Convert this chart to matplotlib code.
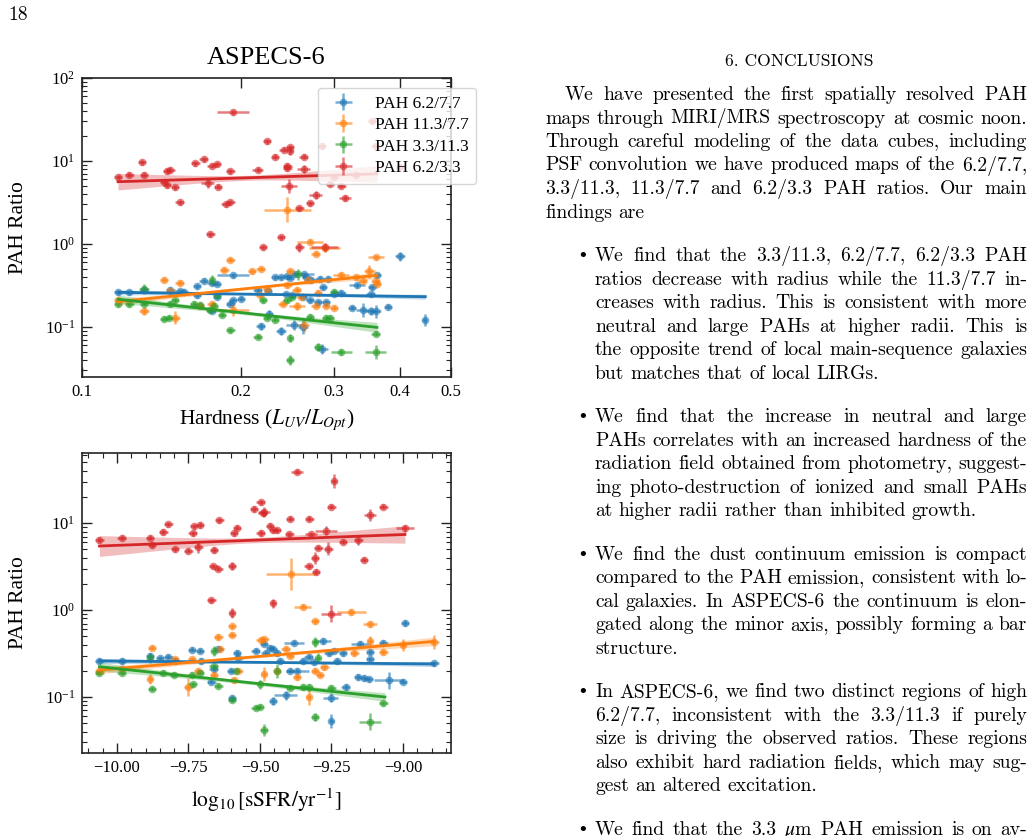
import numpy as np
import matplotlib
matplotlib.use('Agg')
import matplotlib.pyplot as plt
from matplotlib.ticker import (FixedLocator, FixedFormatter, NullLocator,
                               LogLocator, MultipleLocator, NullFormatter, FuncFormatter)

plt.rcParams['font.family'] = ['Liberation Serif', 'DejaVu Serif']
plt.rcParams['mathtext.fontset'] = 'stix'
plt.rcParams['axes.unicode_minus'] = True

# ---------------------------------------------------------------- data
labels = ['PAH 6.2/7.7', 'PAH 11.3/7.7', 'PAH 3.3/11.3', 'PAH 6.2/3.3']
colors = ['#1f77b4', '#ff7f0e', '#2ca02c', '#d62728']

# top panel: (hardness, ratio, xerr [dex], yerr [dex])
top_blue = [(0.117, 0.262, .008, .03), (0.123, 0.262, .008, .03), (0.131, 0.28, .008, .03),
            (0.147, 0.28, .008, .03), (0.153, 0.27, .008, .03), (0.156, 0.265, .008, .03),
            (0.165, 0.31, .008, .03), (0.170, 0.36, .008, .03), (0.176, 0.34, .008, .03),
            (0.180, 0.33, .008, .03), (0.193, 0.42, .030, .03), (0.176, 0.157, .008, .03),
            (0.191, 0.19, .008, .03), (0.193, 0.21, .008, .03), (0.180, 0.23, .008, .03),
            (0.218, 0.102, .008, .04), (0.226, 0.145, .008, .04), (0.232, 0.40, .008, .03),
            (0.238, 0.40, .008, .03), (0.245, 0.41, .008, .03), (0.248, 0.39, .008, .03),
            (0.253, 0.43, .008, .03), (0.263, 0.43, .020, .03), (0.266, 0.40, .008, .03),
            (0.272, 0.37, .008, .03), (0.282, 0.38, .008, .03), (0.292, 0.38, .008, .03),
            (0.286, 0.30, .008, .03), (0.238, 0.090, .010, .05), (0.252, 0.105, .015, .06),
            (0.262, 0.100, .010, .08), (0.285, 0.055, .012, .06), (0.243, 0.25, .008, .03),
            (0.250, 0.24, .008, .03), (0.262, 0.23, .008, .03), (0.270, 0.21, .008, .03),
            (0.280, 0.20, .008, .03), (0.290, 0.20, .008, .03), (0.300, 0.25, .008, .03),
            (0.310, 0.26, .008, .03), (0.332, 0.32, .015, .03), (0.325, 0.17, .008, .03),
            (0.340, 0.16, .012, .08), (0.352, 0.155, .010, .05), (0.360, 0.155, .010, .08),
            (0.380, 0.175, .008, .03), (0.352, 0.25, .008, .03), (0.355, 0.30, .008, .03),
            (0.362, 0.42, .008, .03), (0.400, 0.71, .010, .05), (0.446, 0.122, .005, .07),
            (0.215, 0.28, .008, .03), (0.225, 0.27, .008, .03), (0.200, 0.22, .008, .03),
            (0.165, 0.24, .008, .03)]
top_orange = [(0.117, 0.21, .008, .03), (0.131, 0.155, .010, .05), (0.150, 0.13, .010, .08),
              (0.143, 0.37, .008, .03), (0.153, 0.34, .008, .03), (0.147, 0.27, .008, .03),
              (0.167, 0.18, .008, .03), (0.176, 0.19, .008, .03), (0.191, 0.65, .008, .03),
              (0.186, 0.49, .008, .03), (0.193, 0.16, .030, .07), (0.210, 0.47, .008, .03),
              (0.218, 0.50, .008, .03), (0.217, 0.24, .008, .03), (0.245, 2.6, .045, .15),
              (0.248, 0.47, .008, .03), (0.245, 0.32, .008, .03), (0.255, 0.18, .015, .05),
              (0.263, 0.105, .010, .08), (0.270, 1.06, .025, .03), (0.277, 0.76, .008, .03),
              (0.288, 0.90, .030, .04), (0.268, 0.37, .008, .03), (0.277, 0.18, .008, .03),
              (0.290, 0.18, .008, .03), (0.300, 0.17, .008, .03), (0.310, 0.42, .015, .04),
              (0.330, 0.40, .008, .03), (0.350, 0.47, .010, .08), (0.360, 0.69, .015, .03),
              (0.362, 0.33, .008, .03), (0.260, 0.23, .008, .03), (0.240, 0.19, .008, .03),
              (0.224, 0.29, .008, .03), (0.255, 0.28, .008, .03), (0.280, 0.26, .008, .03),
              (0.340, 0.36, .008, .03), (0.360, 0.36, .008, .03)]
top_green = [(0.117, 0.187, .008, .03), (0.123, 0.187, .008, .03), (0.131, 0.29, .010, .06),
             (0.131, 0.19, .008, .03), (0.147, 0.19, .008, .03), (0.143, 0.125, .008, .03),
             (0.146, 0.13, .008, .03), (0.150, 0.21, .008, .03), (0.167, 0.185, .008, .03),
             (0.176, 0.37, .005, .06), (0.178, 0.18, .008, .03), (0.180, 0.24, .008, .03),
             (0.184, 0.14, .008, .03), (0.191, 0.092, .008, .03), (0.215, 0.076, .008, .03),
             (0.220, 0.21, .008, .03), (0.224, 0.13, .008, .03), (0.232, 0.122, .008, .03),
             (0.245, 0.21, .008, .03), (0.250, 0.23, .008, .03), (0.257, 0.43, .008, .07),
             (0.248, 0.074, .005, .05), (0.248, 0.040, .008, .06), (0.270, 0.133, .008, .03),
             (0.280, 0.058, .008, .05), (0.290, 0.13, .008, .03), (0.295, 0.13, .008, .03),
             (0.300, 0.265, .008, .03), (0.310, 0.050, .020, .04), (0.360, 0.083, .008, .03),
             (0.360, 0.050, .020, .08), (0.175, 0.16, .008, .03), (0.163, 0.19, .008, .03)]
top_red = [(0.117, 6.4, .008, .03), (0.123, 6.8, .008, .03), (0.131, 6.8, .008, .03),
           (0.130, 9.6, .008, .03), (0.145, 7.5, .008, .03), (0.147, 7.8, .008, .03),
           (0.143, 5.6, .008, .03), (0.145, 5.1, .008, .03), (0.150, 4.8, .008, .03),
           (0.153, 3.2, .008, .03), (0.164, 9.4, .008, .03), (0.170, 10.5, .008, .03),
           (0.173, 5.4, .012, .06), (0.176, 8.8, .008, .03), (0.180, 9.2, .008, .03),
           (0.181, 4.9, .008, .03), (0.191, 7.5, .008, .03), (0.193, 38.6, .030, .03),
           (0.187, 3.0, .008, .03), (0.191, 3.2, .008, .03), (0.175, 1.31, .008, .03),
           (0.224, 17.4, .008, .03), (0.215, 7.8, .010, .03), (0.232, 11.3, .008, .03),
           (0.241, 13.7, .008, .03), (0.248, 14.6, .008, .03), (0.248, 13.2, .005, .05),
           (0.245, 8.2, .008, .03), (0.245, 8.8, .008, .03), (0.247, 5.0, .015, .08),
           (0.263, 11.3, .008, .03), (0.263, 8.0, .012, .05), (0.258, 2.69, .008, .03),
           (0.270, 3.1, .008, .03), (0.277, 3.9, .012, .05), (0.295, 5.3, .008, .03),
           (0.315, 3.6, .012, .04), (0.238, 1.2, .008, .03), (0.258, 0.91, .008, .05),
           (0.288, 0.91, .025, .05), (0.220, 0.91, .008, .03), (0.354, 30.0, .008, .03),
           (0.285, 15.0, .008, .03), (0.360, 15.0, .008, .03), (0.400, 8.5, .008, .03),
           (0.300, 6.5, .008, .03), (0.310, 5.0, .008, .03), (0.330, 6.8, .008, .03)]

# bottom panel: (log sSFR, ratio, xerr, yerr [dex])
bot_blue = [(-10.061, 0.26, .015, .03), (-9.983, 0.26, .015, .03), (-9.884, 0.30, .015, .03),
            (-9.850, 0.28, .015, .03), (-9.820, 0.29, .015, .03), (-9.797, 0.26, .015, .03),
            (-9.737, 0.35, .015, .03), (-9.710, 0.34, .015, .03), (-9.705, 0.26, .015, .03),
            (-9.662, 0.21, .015, .03), (-9.670, 0.15, .015, .03), (-9.645, 0.36, .015, .03),
            (-9.600, 0.20, .015, .03), (-9.597, 0.098, .015, .03), (-9.580, 0.32, .015, .03),
            (-9.575, 0.28, .015, .03), (-9.515, 0.34, .015, .03), (-9.486, 0.41, .015, .03),
            (-9.480, 0.32, .015, .03), (-9.465, 0.37, .015, .03), (-9.455, 0.36, .015, .03),
            (-9.440, 0.32, .015, .03), (-9.430, 0.26, .015, .03), (-9.455, 0.090, .015, .05),
            (-9.410, 0.105, .040, .05), (-9.380, 0.42, .035, .03), (-9.395, 0.20, .015, .03),
            (-9.370, 0.20, .040, .03), (-9.350, 0.26, .015, .03), (-9.330, 0.29, .015, .03),
            (-9.310, 0.25, .015, .03), (-9.280, 0.44, .030, .03), (-9.260, 0.32, .015, .03),
            (-9.240, 0.34, .015, .03), (-9.230, 0.26, .015, .03), (-9.210, 0.32, .015, .03),
            (-9.253, 0.098, .025, .05), (-9.250, 0.053, .010, .08), (-9.200, 0.13, .015, .03),
            (-9.150, 0.41, .030, .03), (-9.157, 0.17, .015, .03), (-9.135, 0.165, .015, .03),
            (-9.120, 0.16, .015, .03), (-9.115, 0.33, .015, .03), (-9.115, 0.27, .015, .03),
            (-9.068, 0.42, .015, .03), (-9.050, 0.155, .050, .10), (-9.000, 0.15, .015, .03),
            (-8.993, 0.71, .015, .03), (-8.890, 0.245, .015, .03)]
bot_orange = [(-10.061, 0.20, .015, .03), (-9.983, 0.21, .015, .03), (-9.878, 0.37, .015, .03),
              (-9.884, 0.16, .010, .06), (-9.797, 0.27, .015, .03), (-9.750, 0.13, .015, .10),
              (-9.737, 0.27, .015, .03), (-9.715, 0.20, .015, .03), (-9.660, 0.18, .015, .03),
              (-9.645, 0.49, .015, .03), (-9.640, 0.36, .015, .03), (-9.597, 0.65, .015, .03),
              (-9.597, 0.52, .015, .03), (-9.590, 0.157, .015, .03), (-9.575, 0.20, .015, .03),
              (-9.497, 0.45, .015, .03), (-9.485, 0.46, .015, .03), (-9.486, 0.185, .010, .08),
              (-9.440, 0.20, .015, .03), (-9.410, 0.36, .015, .03), (-9.390, 2.6, .090, .18),
              (-9.395, 0.30, .015, .03), (-9.370, 0.17, .015, .03), (-9.350, 1.09, .030, .03),
              (-9.330, 0.101, .010, .10), (-9.307, 0.74, .015, .03), (-9.307, 0.20, .015, .03),
              (-9.290, 0.18, .015, .03), (-9.275, 0.22, .015, .03), (-9.180, 0.95, .050, .04),
              (-9.170, 0.32, .015, .03), (-9.115, 0.69, .025, .03), (-9.115, 0.44, .010, .06),
              (-9.068, 0.33, .015, .03), (-9.000, 0.40, .010, .07), (-8.890, 0.43, .015, .08)]
bot_green = [(-10.061, 0.19, .015, .03), (-9.983, 0.19, .015, .03), (-9.884, 0.28, .010, .06),
             (-9.878, 0.125, .015, .03), (-9.838, 0.19, .015, .03), (-9.800, 0.18, .015, .03),
             (-9.737, 0.18, .015, .03), (-9.735, 0.14, .015, .03), (-9.710, 0.19, .015, .03),
             (-9.662, 0.34, .010, .06), (-9.662, 0.225, .015, .03), (-9.645, 0.135, .015, .03),
             (-9.597, 0.093, .015, .03), (-9.585, 0.20, .015, .03), (-9.515, 0.075, .015, .03),
             (-9.500, 0.077, .015, .03), (-9.500, 0.14, .010, .05), (-9.486, 0.042, .015, .07),
             (-9.440, 0.20, .010, .08), (-9.395, 0.128, .015, .03), (-9.350, 0.13, .015, .03),
             (-9.330, 0.13, .015, .03), (-9.307, 0.43, .010, .06), (-9.307, 0.059, .015, .05),
             (-9.296, 0.28, .010, .06), (-9.250, 0.128, .015, .03), (-9.115, 0.052, .040, .10),
             (-9.068, 0.085, .015, .03)]
bot_red = [(-10.061, 6.4, .015, .03), (-9.983, 6.8, .015, .03), (-9.884, 6.8, .015, .03),
           (-9.878, 5.6, .015, .03), (-9.838, 7.9, .015, .03), (-9.820, 9.7, .015, .03),
           (-9.797, 5.0, .015, .03), (-9.750, 4.8, .015, .03), (-9.735, 7.6, .015, .03),
           (-9.730, 9.2, .015, .03), (-9.710, 9.5, .015, .03), (-9.715, 5.3, .015, .07),
           (-9.660, 4.9, .015, .03), (-9.663, 3.2, .015, .03), (-9.645, 3.0, .015, .03),
           (-9.642, 10.8, .015, .03), (-9.670, 1.3, .015, .03), (-9.597, 3.2, .015, .05),
           (-9.597, 0.92, .010, .06), (-9.590, 7.6, .015, .03), (-9.580, 8.9, .015, .03),
           (-9.520, 14.5, .015, .03), (-9.497, 17.4, .015, .03), (-9.485, 13.5, .020, .06),
           (-9.490, 13.0, .015, .03), (-9.497, 7.7, .015, .03), (-9.465, 9.3, .015, .03),
           (-9.453, 8.3, .015, .03), (-9.440, 8.3, .015, .03), (-9.455, 1.2, .010, .05),
           (-9.395, 11.2, .015, .03), (-9.397, 7.4, .015, .03), (-9.371, 39.0, .020, .03),
           (-9.327, 11.2, .015, .03), (-9.322, 7.4, .020, .03), (-9.296, 5.2, .015, .03),
           (-9.307, 4.0, .015, .07), (-9.330, 3.2, .015, .03), (-9.304, 2.75, .015, .03),
           (-9.269, 8.2, .040, .05), (-9.261, 5.1, .015, .08), (-9.250, 15.4, .015, .03),
           (-9.241, 30.6, .010, .08), (-9.250, 0.91, .035, .10), (-9.210, 6.1, .015, .03),
           (-9.156, 6.4, .015, .06), (-9.136, 3.8, .015, .03), (-9.115, 12.4, .020, .07),
           (-9.068, 15.4, .015, .03), (-8.993, 8.7, .030, .04)]

# regression fits: x range, y at ends, CI half-width [dex] (left, min, right)
top_fit_x = [(0.117, 0.447), (0.117, 0.362), (0.117, 0.362), (0.117, 0.362)]
top_fit_y = [(0.262, 0.232), (0.202, 0.42), (0.216, 0.099), (5.63, 7.0)]
top_fit_ci = [(0.03, 0.010, 0.03), (0.04, 0.015, 0.04), (0.05, 0.02, 0.06), (0.10, 0.03, 0.10)]
bot_fit_x = [(-10.061, -8.89), (-10.061, -8.89), (-10.061, -9.063), (-10.061, -8.993)]
bot_fit_y = [(0.26, 0.24), (0.204, 0.436), (0.223, 0.100), (5.45, 7.4)]
bot_fit_ci = [(0.03, 0.010, 0.03), (0.04, 0.015, 0.05), (0.05, 0.02, 0.05), (0.12, 0.03, 0.10)]

top_xticks = [0.1, 0.2, 0.3, 0.4, 0.5]
top_xticklabels = ['0.1', '0.2', '0.3', '0.4', '0.5']

page_number = '18'
heading = '6. CONCLUSIONS'
paragraph = ["We have presented the first spatially resolved PAH",
             "maps through MIRI/MRS spectroscopy at cosmic noon.",
             "Through careful modeling of the data cubes, including",
             "PSF convolution we have produced maps of the 6.2/7.7,",
             "3.3/11.3, 11.3/7.7 and 6.2/3.3 PAH ratios.  Our main",
             "findings are"]
bullets = [["We find that the 3.3/11.3, 6.2/7.7, 6.2/3.3 PAH",
            "ratios decrease with radius while the 11.3/7.7 in-",
            "creases with radius. This is consistent with more",
            "neutral and large PAHs at higher radii.  This is",
            "the opposite trend of local main-sequence galaxies",
            "but matches that of local LIRGs."],
           ["We find that the increase in neutral and large",
            "PAHs correlates with an increased hardness of the",
            "radiation field obtained from photometry, suggest-",
            "ing photo-destruction of ionized and small PAHs",
            "at higher radii rather than inhibited growth."],
           ["We find the dust continuum emission is compact",
            "compared to the PAH emission, consistent with lo-",
            "cal galaxies. In ASPECS-6 the continuum is elon-",
            "gated along the minor axis, possibly forming a bar",
            "structure."],
           ["In ASPECS-6, we find two distinct regions of high",
            "6.2/7.7, inconsistent with the 3.3/11.3 if purely",
            "size is driving the observed ratios. These regions",
            "also exhibit hard radiation fields, which may sug-",
            "gest an altered excitation."],
           ["We find that the 3.3 $\\mu$m PAH emission is on av-"]]

# ---------------------------------------------------------------- figure
W, H = 1034, 836
fig = plt.figure(figsize=(W / 100, H / 100), dpi=100)


def fx(px):
    return px / W


def fy(py):
    return 1 - py / H


ax1 = fig.add_axes([fx(82), fy(377), fx(451) - fx(82), fy(78) - fy(377)])
ax2 = fig.add_axes([fx(82), fy(753), fx(451) - fx(82), fy(453) - fy(753)])


def draw_series(ax, pts, color, label, logx):
    a = np.array(pts, dtype=float)
    x, y, xe, ye = a[:, 0], a[:, 1], a[:, 2], a[:, 3]
    if logx:
        xerr = [x - x / 10 ** xe, x * 10 ** xe - x]
    else:
        xerr = xe
    yerr = [y - y / 10 ** ye, y * 10 ** ye - y]
    ax.errorbar(x, y, xerr=xerr, yerr=yerr, fmt='o', color=color, ms=5.5,
                mew=0, elinewidth=1.8, capsize=0, alpha=0.6, label=label, zorder=2)


def draw_fit(ax, xs, ys, ci, color, logx):
    t = np.linspace(0, 1, 120)
    if logx:
        lx = np.log10(xs)
        xx = 10 ** (lx[0] + t * (lx[1] - lx[0]))
    else:
        xx = xs[0] + t * (xs[1] - xs[0])
    ly = np.log10(ys)
    yl = ly[0] + t * (ly[1] - ly[0])
    bl, bm, br = ci
    e = np.where(t < 0.5, bl, br)
    hw = np.sqrt(bm ** 2 + (2 * t - 1) ** 2 * (e ** 2 - bm ** 2))
    ax.fill_between(xx, 10 ** (yl - hw), 10 ** (yl + hw), color=color, alpha=0.3, lw=0, zorder=3)
    ax.plot(xx, 10 ** yl, color=color, lw=2, zorder=4)


top_sets = [top_blue, top_orange, top_green, top_red]
bot_sets = [bot_blue, bot_orange, bot_green, bot_red]
for i in range(4):
    draw_series(ax1, top_sets[i], colors[i], labels[i], True)
    draw_series(ax2, bot_sets[i], colors[i], labels[i], False)
for i in range(4):
    draw_fit(ax1, top_fit_x[i], top_fit_y[i], top_fit_ci[i], colors[i], True)
    draw_fit(ax2, bot_fit_x[i], bot_fit_y[i], bot_fit_ci[i], colors[i], False)

for ax in (ax1, ax2):
    ax.set_yscale('log')
    ax.yaxis.set_major_locator(LogLocator(base=10))
    ax.yaxis.set_minor_locator(LogLocator(base=10, subs=np.arange(2, 10)))
    ax.yaxis.set_minor_formatter(NullFormatter())
    ax.tick_params(which='both', direction='in', top=True, right=True,
                   labelsize=12, colors='#222222', labelcolor='black')
    ax.tick_params(which='major', length=7, width=1.0, pad=5)
    ax.tick_params(which='minor', length=3.5, width=0.8)
    for s in ax.spines.values():
        s.set_linewidth(1.2)
        s.set_color('#222222')
    ax.set_ylabel('PAH Ratio', fontsize=15.5)
    ax.yaxis.label.set_va('center')
    ax.yaxis.set_label_coords(-0.173, 0.5)

ax1.set_xscale('log')
ax1.set_xlim(0.1, 0.5)
ax1.set_ylim(0.025, 100)
ax1.xaxis.set_major_locator(FixedLocator(top_xticks))
ax1.xaxis.set_major_formatter(FixedFormatter(top_xticklabels))
ax1.xaxis.set_minor_locator(NullLocator())
ax1.set_xlabel(r'Hardness ($L_{UV}/L_{Opt}$)', fontsize=15.5)
ax1.xaxis.label.set_va('center')
ax1.xaxis.set_label_coords(0.5, -0.143)
ax1.text(0.5, 1.067, 'ASPECS-6', transform=ax1.transAxes, ha='center', va='center',
         fontsize=19)

ax2.set_xlim(-10.122, -8.832)
ax2.set_ylim(0.0227, 64)
ax2.xaxis.set_major_locator(MultipleLocator(0.25))
ax2.xaxis.set_minor_locator(MultipleLocator(0.05))


def minus_fmt(v, pos):
    return ('%.2f' % v).replace('-', '\u2212')


ax2.xaxis.set_major_formatter(FuncFormatter(minus_fmt))
ax2.set_xlabel(r'$\log_{10}[\mathrm{sSFR/yr^{-1}}]$', fontsize=15.5)
ax2.xaxis.label.set_va('center')
ax2.xaxis.set_label_coords(0.5, -0.157)

leg = ax1.legend(loc='upper left', bbox_to_anchor=(0.64, 0.967), borderaxespad=0,
                 fontsize=12.5, framealpha=0.8, edgecolor='#cccccc', fancybox=True,
                 handlelength=2.0, handletextpad=0.8, labelspacing=0.3, borderpad=0.45)
leg.set_zorder(10)

# ---------------------------------------------------------------- page text
body_kw = dict(family=['cmr10', 'DejaVu Serif'], fontsize=14.15, color='black')
renderer = fig.canvas.get_renderer()


def text_width(s, **kw):
    t = fig.text(0, 0, s, **kw)
    w = t.get_window_extent(renderer).width
    t.remove()
    return w


space_w = text_width('a a', **body_kw) - 2 * text_width('a', **body_kw)


def put_line(line, x0, x1, yb, justify):
    words = line.split()
    ws = [text_width(w, **body_kw) for w in words]
    if justify and len(words) > 1:
        gap = (x1 - x0 - sum(ws)) / (len(words) - 1)
    else:
        gap = space_w
    x = x0
    for w, wd in zip(words, ws):
        fig.text(fx(x), fy(yb), w, ha='left', va='baseline', **body_kw)
        x += wd + gap


fig.text(fx(8), fy(20), page_number, ha='left', va='baseline', **body_kw)
fig.text(fx(799), fy(66), heading, ha='center', va='baseline',
         family=['cmr10', 'DejaVu Serif'], fontsize=12.6)

col_l, col_r, indent = 545, 1027, 20
bul_x, bul_text = 583, 595
line_step, block_step = 23.5, 43.6
y = 95 + 5
for k, ln in enumerate(paragraph):
    x0 = col_l + (indent if k == 0 else 0)
    put_line(ln, x0, col_r, y, k < len(paragraph) - 1)
    if k < len(paragraph) - 1:
        y += line_step
for b in bullets:
    y += block_step
    fig.text(fx(bul_x), fy(y), '\u2022', ha='center', va='baseline',
             family='DejaVu Sans', fontsize=13)
    for k, ln in enumerate(b):
        last = (k == len(b) - 1) and (len(b) > 1)
        put_line(ln, bul_text, col_r, y, not last)
        if k < len(b) - 1:
            y += line_step

fig.savefig('out.png', dpi=100)
